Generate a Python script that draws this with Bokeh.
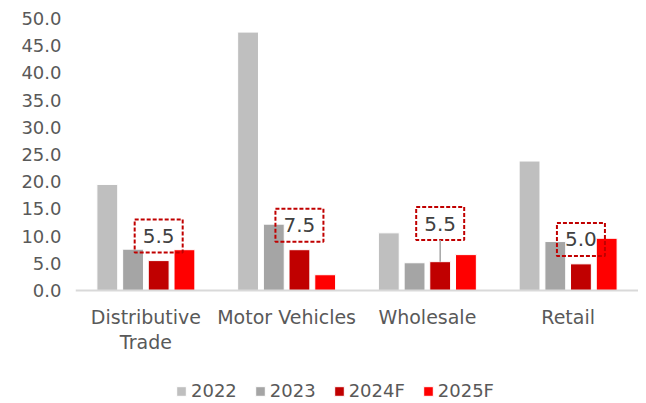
from bokeh.plotting import figure
from bokeh.models import (ColumnDataSource, FactorRange, Range1d, FixedTicker,
                          PrintfTickFormatter, Legend, LegendItem, Span)
from bokeh.transform import dodge
from bokeh.core.properties import value
from bokeh.embed import file_html
from bokeh.resources import INLINE

# ---- data ----
categories = ["Distributive\nTrade", "Motor Vehicles", "Wholesale", "Retail"]
series = ["2022", "2023", "2024F", "2025F"]
v2022 = [19.5, 47.5, 10.6, 23.8]
v2023 = [7.6, 12.2, 5.1, 9.0]
v2024F = [5.5, 7.5, 5.3, 4.9]
v2025F = [7.5, 2.9, 6.6, 9.6]
callout_labels = ["5.5", "7.5", "5.5", "5.0"]
y_ticks = [0, 5, 10, 15, 20, 25, 30, 35, 40, 45, 50]

# ---- styling ----
colors = ["#bfbfbf", "#a5a5a5", "#c00000", "#ff0000"]
offsets = [-0.274, -0.091, 0.091, 0.274]
bar_w = 0.148
callout_lift = [4.5, 4.5, 7.0, 4.5]
FONT = "DejaVu Sans"
TXT = "#595959"

src = ColumnDataSource(dict(cat=categories, s2022=v2022, s2023=v2023,
                            s2024F=v2024F, s2025F=v2025F))

# the area below the value axis (category names, legend) lies inside the frame
p = figure(x_range=FactorRange(*categories, range_padding=0, factor_padding=0),
           y_range=Range1d(-20.4, 50), frame_width=563, frame_height=383,
           output_backend="svg", toolbar_location=None,
           min_border_left=75, min_border_right=0, min_border_top=18,
           min_border_bottom=0)
p.outline_line_color = None
p.xgrid.grid_line_color = None
p.ygrid.grid_line_color = None
p.xaxis.visible = False

renderers = []
for key, col, off in zip(["s2022", "s2023", "s2024F", "s2025F"], colors, offsets):
    r = p.vbar(x=dodge("cat", off, range=p.x_range), top=key, width=bar_w,
               source=src, fill_color=col, line_color="white", line_width=1)
    renderers.append(r)

# category axis line and labels
p.add_layout(Span(location=0, dimension="width", line_color="#d9d9d9",
                  line_width=2))
p.text(x="cat", y=0, text="cat", source=src, y_offset=15,
       text_align="center", text_baseline="top", text_font=value(FONT),
       text_font_size="19px", text_color=TXT, text_line_height=1.15)

# callout boxes over the 2024F bars
box_y = [v + l for v, l in zip(v2024F, callout_lift)]
csrc = ColumnDataSource(dict(cat=categories, y=box_y, label=callout_labels))
xpos = dodge("cat", offsets[2], range=p.x_range)
p.rect(x=xpos, y="y", width=48, height=33, width_units="screen",
       height_units="screen", source=csrc, fill_color=None,
       line_color="#c00000", line_width=2, line_dash="4 2")
p.text(x=xpos, y="y", text="label", source=csrc, text_align="center",
       text_baseline="middle", text_font=value(FONT),
       text_font_size="20px", text_color="#404040")
# leader line for Wholesale callout
lsrc = ColumnDataSource(dict(cat=[categories[2]], y0=[box_y[2] - 3.0],
                             y1=[v2024F[2]]))
p.segment(x0=xpos, y0="y0", x1=xpos, y1="y1", source=lsrc,
          line_color="#a5a5a5", line_width=1.5)

p.yaxis.ticker = FixedTicker(ticks=y_ticks)
p.yaxis.formatter = PrintfTickFormatter(format="%.1f")
p.yaxis.axis_line_color = None
p.yaxis.major_tick_line_color = None
p.yaxis.minor_tick_line_color = None
p.yaxis.major_tick_out = 0
p.yaxis.major_tick_in = 0
p.yaxis.major_label_standoff = 14
p.yaxis.major_label_text_font = FONT
p.yaxis.major_label_text_font_size = "18px"
p.yaxis.major_label_text_color = TXT

legend = Legend(items=[LegendItem(label=s, renderers=[r]) for s, r in zip(series, renderers)],
                orientation="horizontal", location=(100, 0),
                label_text_font=FONT, label_text_font_size="18px",
                label_text_color=TXT, glyph_width=12, glyph_height=12,
                spacing=17, label_standoff=4, border_line_color=None,
                background_fill_alpha=0, margin=0, padding=0)
p.add_layout(legend, "center")

open("out.html", "w").write(file_html(p, INLINE))
